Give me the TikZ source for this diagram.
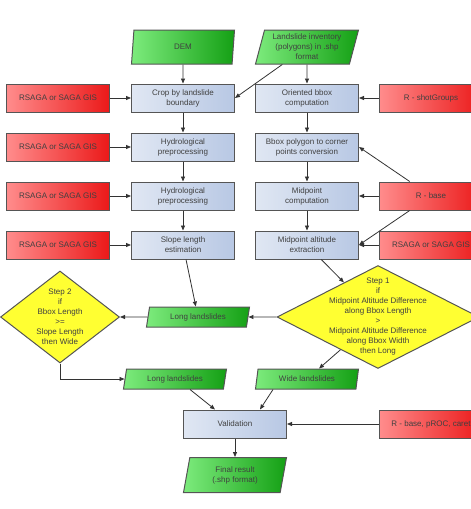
\documentclass[tikz,border=0pt]{standalone}
\usepackage{fontspec}
\setmainfont{Liberation Sans}
\usetikzlibrary{arrows.meta,positioning,shapes.geometric}

\definecolor{grnL}{RGB}{125,235,125}
\definecolor{grnR}{RGB}{20,160,20}
\definecolor{redL}{RGB}{255,140,140}
\definecolor{redR}{RGB}{235,25,25}
\definecolor{bluL}{RGB}{224,231,243}
\definecolor{bluR}{RGB}{184,200,228}
\definecolor{yel}{RGB}{255,255,50}
\definecolor{edge}{RGB}{85,85,85}

\begin{document}
\begin{tikzpicture}[
  x=1pt, y=-1pt,
  font=\fontsize{8}{10}\selectfont,
  process/.style={
    draw=edge,
    line width=1pt,
    left color=bluL, right color=bluR,
    minimum width=103pt,
    minimum height=28pt,
    align=center,
    inner sep=2pt,
    text=black!75
  },
  tool/.style={process, left color=redL, right color=redR},
  data/.style={
    trapezium, trapezium left angle=72, trapezium right angle=108,
    trapezium stretches body,
    draw=edge, line width=1pt,
    left color=grnL, right color=grnR,
    minimum width=103pt, minimum height=20pt,
    align=center, inner sep=1pt, text=black!75
  },
  decision/.style={
    diamond, draw=edge, line width=1pt, fill=yel,
    inner sep=0pt, text=black!75
  },
  flow/.style={-{Triangle[length=5pt,width=4pt]}, line width=0.8pt, draw=black!80}
]
  \clip (0,0) rectangle (471,509);

  % inputs
  \node[data, minimum height=34pt] (dem) at (183,47) {DEM};
  \node[data, minimum height=34pt] (inv) at (307,47) {Landslide inventory\\(polygons) in .shp\\format};

  % left chain
  \node[process] (crop) at (183,98) {Crop by landslide\\boundary};
  \node[process, below=20pt of crop] (hydroA) {Hydrological\\preprocessing};
  \node[process, below=20pt of hydroA] (hydroB) {Hydrological\\preprocessing};
  \node[process, below=20pt of hydroB] (slope) {Slope length\\estimation};

  \node[tool, left=21pt of crop] (sagaA) {RSAGA or SAGA GIS};
  \node[tool, left=21pt of hydroA] (sagaB) {RSAGA or SAGA GIS};
  \node[tool, left=21pt of hydroB] (sagaC) {RSAGA or SAGA GIS};
  \node[tool, left=21pt of slope] (sagaD) {RSAGA or SAGA GIS};

  % right chain
  \node[process] (obox) at (307,98) {Oriented bbox\\computation};
  \node[process, below=20pt of obox] (bpoly) {Bbox polygon to corner\\points conversion};
  \node[process, below=20pt of bpoly] (midpt) {Midpoint\\computation};
  \node[process, below=20pt of midpt] (midalt) {Midpoint altitude\\extraction};

  \node[tool, right=20pt of obox] (shot) {R - shotGroups};
  \node[tool, right=20pt of midpt] (rbase) {R - base};
  \node[tool, right=20pt of midalt] (sagaE) {RSAGA or SAGA GIS};

  % classification
  \node[decision, minimum width=202pt, minimum height=103pt,
    label={[align=center, text=black!75]center:Step 1\\if\\Midpoint Altitude Difference\\along Bbox Length\\>\\Midpoint Altitude Difference\\along Bbox Width\\then Long}] (step1) at (378,317) {};
  \node[data] (longA) at (198,317) {Long landslides};
  \node[decision, minimum width=119pt, minimum height=92pt,
    label={[align=center, text=black!75]center:Step 2\\if\\Bbox Length\\>=\\Slope Length\\then Wide}] (step2) at (60,317) {};
  \node[data] (longB) at (175,379) {Long landslides};
  \node[data] (wide) at (307,379) {Wide landslides};

  % validation
  \node[process] (valid) at (235,424) {Validation};
  \node[tool, right=92pt of valid] (rroc) {R - base, pROC, caret};
  \node[data, minimum height=35pt] (final) at (235,475) {Final result\\(.shp format)};

  \draw[flow] (dem) -- (crop);
  \draw[flow] (inv) -- (crop.east);
  \draw[flow] (inv) -- (obox);
  \draw[flow] (sagaA) -- (crop);
  \draw[flow] (sagaB) -- (hydroA);
  \draw[flow] (sagaC) -- (hydroB);
  \draw[flow] (sagaD) -- (slope);
  \draw[flow] (crop) -- (hydroA);
  \draw[flow] (hydroA) -- (hydroB);
  \draw[flow] (hydroB) -- (slope);
  \draw[flow] (shot) -- (obox);
  \draw[flow] (obox) -- (bpoly);
  \draw[flow] (bpoly) -- (midpt);
  \draw[flow] (midpt) -- (midalt);
  \draw[flow] (rbase) -- (bpoly.east);
  \draw[flow] (rbase) -- (midpt);
  \draw[flow] (rbase) -- (midalt.east);
  \draw[flow] (sagaE) -- (midalt);
  \draw[flow] (slope) -- (longA);
  \draw[flow] (midalt) -- (step1);
  \draw[flow] (step1) -- (longA);
  \draw[flow] (longA) -- (step2);
  \draw[flow] (step2.south) |- (longB);
  \draw[flow] (step1) -- (wide);
  \draw[flow] ([xshift=15pt]longB.south) -- ([xshift=-20pt]valid.north);
  \draw[flow] ([xshift=-34pt]wide.south) -- ([xshift=25pt]valid.north);
  \draw[flow] (rroc) -- (valid);
  \draw[flow] (valid) -- (final);
\end{tikzpicture}
\end{document}
